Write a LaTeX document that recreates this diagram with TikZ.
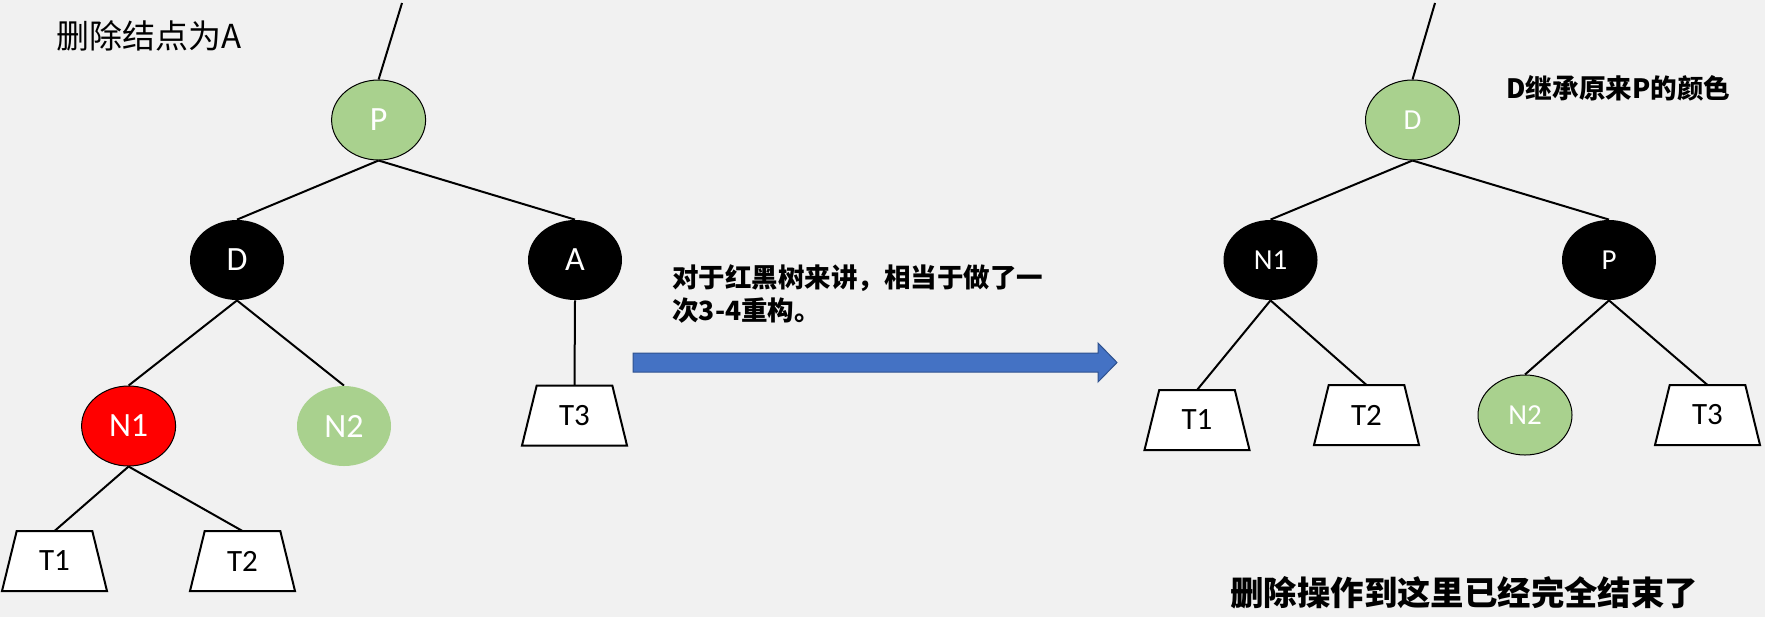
\documentclass[tikz,border=0pt]{standalone}
\usepackage{fontspec}
\setmainfont{Carlito}
\newfontfamily\cjk{Noto Sans CJK SC}
\usetikzlibrary{shapes.geometric,backgrounds}
\definecolor{bgc}{HTML}{F1F1F1}
\definecolor{gnode}{HTML}{A9D18E}
\definecolor{rnode}{HTML}{FF0000}
\definecolor{arrfill}{HTML}{4472C4}
\definecolor{arrdraw}{HTML}{2F528F}
\tikzset{
  circ/.style={ellipse, minimum width=47pt, minimum height=40pt, inner sep=0pt, text=white},
  blk/.style={circ, fill=black},
  grn/.style={circ, fill=gnode, draw=black, line width=0.5pt},
  grnb/.style={circ, fill=gnode},
  red/.style={circ, fill=rnode, draw=black, line width=0.5pt},
  bigl/.style={font=\fontsize{17pt}{18pt}\selectfont},
  smll/.style={font=\fontsize{14.5pt}{16pt}\selectfont},
  tz/.style={rectangle, minimum width=52.5pt, minimum height=30pt, inner sep=0pt, outer sep=0pt,
    font=\fontsize{15.5pt}{17pt}\selectfont},
  trap/.style={draw=black, fill=white, line width=1pt, line join=miter},
  edge/.style={line width=1pt, draw=black},
}
\newcommand{\trapz}[1]{%
  \draw[trap] ([xshift=-18.9pt]#1.north) -- ([xshift=18.9pt]#1.north) -- ([xshift=26.25pt]#1.south) -- ([xshift=-26.25pt]#1.south) -- cycle;}
\begin{document}
\begin{tikzpicture}[x=0.5pt, y=-0.5pt]
\useasboundingbox (0,0) rectangle (1765,617);

% left tree
\node[grn, bigl] (lP) at (378.6,120) {P};
\node[blk, bigl] (lD) at (237,260) {D};
\node[blk, bigl] (lA) at (575,260) {A};
\node[red, bigl] (lN1) at (128.6,426) {N1};
\node[grnb, bigl] (lN2) at (344,426) {N2};
\node[tz] (lT1) at (54.5,561) {T1};
\node[tz] (lT2) at (242.5,561) {T2};
\node[tz] (lT3) at (574.5,415.5) {T3};
\coordinate (lTop) at (402,3);

% right tree
\node[grn, smll] (rD) at (1412.5,120) {D};
\node[blk, smll] (rN1) at (1270.5,260) {N1};
\node[blk, smll] (rP) at (1609,260) {P};
\node[grn, smll] (rN2) at (1525,415) {N2};
\node[tz] (rT1) at (1197,420) {T1};
\node[tz] (rT2) at (1366.5,415) {T2};
\node[tz] (rT3) at (1707.5,415) {T3};
\coordinate (rTop) at (1435,3);

\begin{pgfonlayer}{background}
\fill[bgc] (0,0) rectangle (1765,617);
\trapz{lT1}\trapz{lT2}\trapz{lT3}
\trapz{rT1}\trapz{rT2}\trapz{rT3}
\draw[edge] (lTop) -- (lP.north);
\draw[edge] (lP.south) -- (lD.north);
\draw[edge] (lP.south) -- (lA.north);
\draw[edge] (lD.south) -- (lN1.north);
\draw[edge] (lD.south) -- (lN2.north);
\draw[edge] (lA.south) -- (lT3.north);
\draw[edge] (lN1.south) -- (lT1.north);
\draw[edge] (lN1.south) -- (lT2.north);
\draw[edge] (rTop) -- (rD.north);
\draw[edge] (rD.south) -- (rN1.north);
\draw[edge] (rD.south) -- (rP.north);
\draw[edge] (rN1.south) -- (rT1.north);
\draw[edge] (rN1.south) -- (rT2.north);
\draw[edge] (rP.south) -- (rN2.north);
\draw[edge] (rP.south) -- (rT3.north);
\end{pgfonlayer}

% big arrow
\filldraw[fill=arrfill, draw=arrdraw, line width=0.5pt]
  (633,353) -- (1098,353) -- (1098,343) -- (1117,362.5) -- (1098,382) -- (1098,372) -- (633,372) -- cycle;

% texts
\node[anchor=west, inner sep=0pt, font=\cjk\fontsize{16.5pt}{18pt}\selectfont] (title) at (56,36) {删除结点为A};
\node[anchor=west, inner sep=0pt, align=left, font=\cjk\bfseries\fontsize{13.25pt}{16.5pt}\selectfont] (mid) at (672,293.5) {对于红黑树来讲，相当于做了一\\次3-4重构。};
\node[anchor=west, inner sep=0pt, font=\cjk\bfseries\fontsize{13.3pt}{15pt}\selectfont] (inherit) at (1506,88.5) {D继承原来P的颜色};
\node[anchor=west, inner sep=0pt, font=\cjk\bfseries\fontsize{16.7pt}{18pt}\selectfont] (done) at (1230,593) {删除操作到这里已经完全结束了};
\end{tikzpicture}
\end{document}
